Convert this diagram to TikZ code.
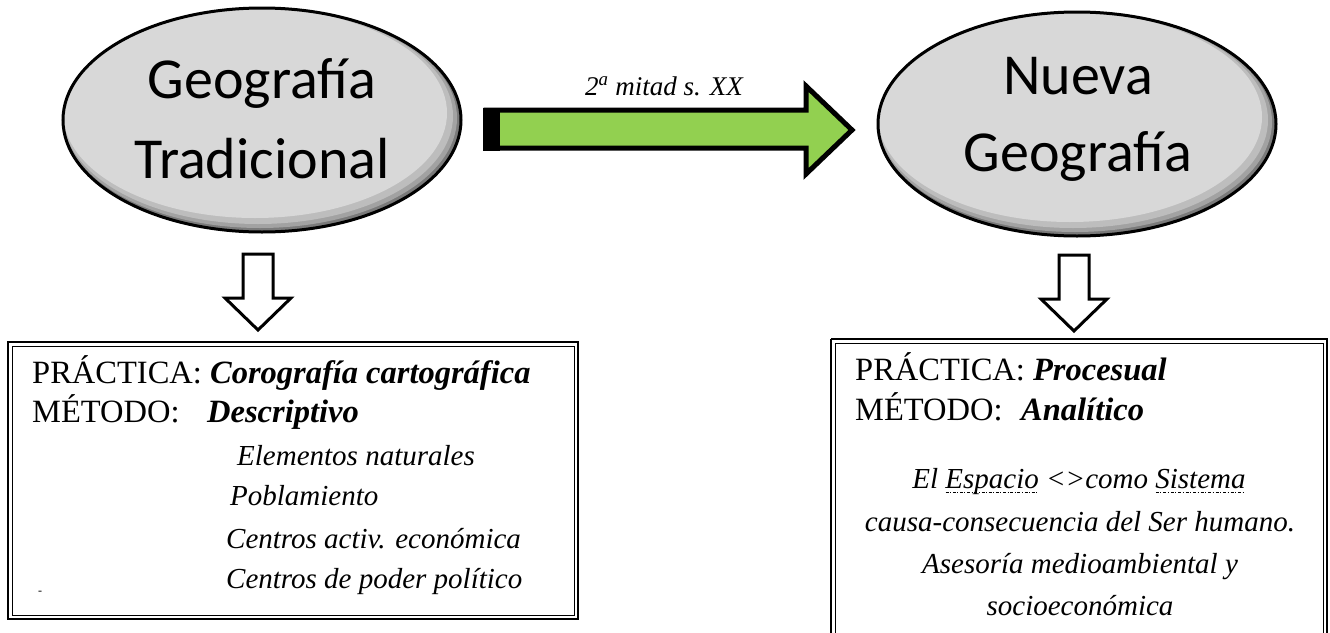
\documentclass[tikz,border=0pt]{standalone}
\usepackage{fontspec}
\setmainfont{Liberation Serif}
\newfontfamily\calib{Carlito}
\usetikzlibrary{shapes.geometric}
\definecolor{arrgreen}{HTML}{92D050}
\definecolor{elin}{HTML}{D8D8D8}
\definecolor{elmid}{HTML}{BDBDBD}
\definecolor{elmid2}{HTML}{A2A2A2}
\definecolor{eledge}{HTML}{7A7A7A}
\newcommand\dul[1]{\setbox0\hbox{#1}\rlap{\raisebox{-5pt}{\hbox to \wd0{\xleaders\hbox{\rule{3pt}{0.7pt}\hspace{1.5pt}\rule{1pt}{0.7pt}\hspace{1.5pt}}\hfil}}}#1}
\tikzset{
  geo/.style={ellipse, minimum width=398pt, minimum height=224pt, inner sep=0pt,
    line width=3pt, draw=black, fill=eledge,
    path picture={
      \fill[elmid2] ([shift={(-2,-2)}]path picture bounding box.center) ellipse [x radius=197, y radius=110];
      \fill[elmid] ([shift={(-4,-4)}]path picture bounding box.center) ellipse [x radius=195, y radius=108];
      \fill[elin] ([shift={(-7,-7)}]path picture bounding box.center) ellipse [x radius=192, y radius=105];
    }},
  geotext/.style={anchor=base, inner sep=0pt, font=\calib\fontsize{58}{66}\selectfont},
  downarrow/.style={draw=black, line width=3pt, fill=white, line join=miter},
  boxouter/.style={draw=black, line width=1.6pt},
  boxinner/.style={draw=black, line width=1pt},
  lbl/.style={anchor=base west, inner sep=0pt, font=\fontsize{32.5}{36}\selectfont},
  itl/.style={anchor=base west, inner sep=0pt, font=\itshape\fontsize{29}{34}\selectfont},
  itc/.style={anchor=base, inner sep=0pt, font=\itshape\fontsize{29}{34}\selectfont}
}
\begin{document}
\begin{tikzpicture}[x=1pt,y=-1pt]
\useasboundingbox (0,0) rectangle (1330,632);
\fill[white] (0,0) rectangle (1330,632);

% ellipses
\node[geo] (trad) at (262,120) {};
\node[geo] (nueva) at (1077,124) {};
\node[geotext] (t1) at (262,98) {Geografía};
\node[geotext] (t2) at (262,178) {Tradicional};
\node[geotext] (n1) at (1078,94) {Nueva};
\node[geotext] (n2) at (1078,171) {Geografía};

% green arrow
\draw[line width=5pt, fill=arrgreen, line join=miter, miter limit=10]
  (486,110) -- (806,110) -- (806,86) -- (852,130) -- (806,174) -- (806,148) -- (486,148) -- cycle;
\fill[black] (483,107.5) rectangle (500,150.5);
\node[anchor=base, inner sep=0pt, font=\itshape\fontsize{27}{30}\selectfont] (lab) at (664,95) {2\textsuperscript{a} mitad s. XX};

% down arrows
\draw[downarrow] (243,254) -- (273,254) -- (273,298) -- (291,298) -- (258,330) -- (225,298) -- (243,298) -- cycle;
\draw[downarrow] (1059,255) -- (1089,255) -- (1089,299) -- (1107,299) -- (1074,331) -- (1041,299) -- (1059,299) -- cycle;

% left box
\draw[boxouter] (8,342) rectangle (578,619);
\draw[boxinner] (12,346) rectangle (574,615);
\node[lbl] (p1) at (32,383) {PRÁCTICA: \textbf{\textit{Corografía cartográfica}}};
\node[lbl] (m1) at (32,422) {MÉTODO:};
\node[lbl] (d1) at (207,422) {\textbf{\textit{Descriptivo}}};
\node[itl] (e1) at (237,465) {Elementos naturales};
\node[itl] (e2) at (230,505) {Poblamiento};
\node[itl] (e3) at (226,548) {Centros activ. económica};
\node[itl] (e4) at (226,588) {Centros de poder político};
\node[anchor=base, inner sep=0pt, font=\fontsize{12}{14}\selectfont] (dash) at (40,594) {-};

% right box
\draw[boxouter] (831,339) -- (1327,339) -- (1327,640) (831,339) -- (831,640);
\draw[boxinner] (835,343) -- (1323,343) -- (1323,640) (835,343) -- (835,640);
\node[lbl] (p2) at (855,380) {PRÁCTICA: \textbf{\textit{Procesual}}};
\node[lbl] (m2) at (855,420) {MÉTODO:};
\node[lbl] (a2) at (1021,420) {\textbf{\textit{Analítico}}};
\node[itc] (r1) at (1079,488) {El \dul{Espacio} <>como \dul{Sistema}};
\node[itc] (r2) at (1080,531) {causa-consecuencia del Ser humano.};
\node[itc] (r3) at (1080,573) {Asesoría medioambiental y};
\node[itc] (r4) at (1080,615) {socioeconómica};
\end{tikzpicture}
\end{document}
